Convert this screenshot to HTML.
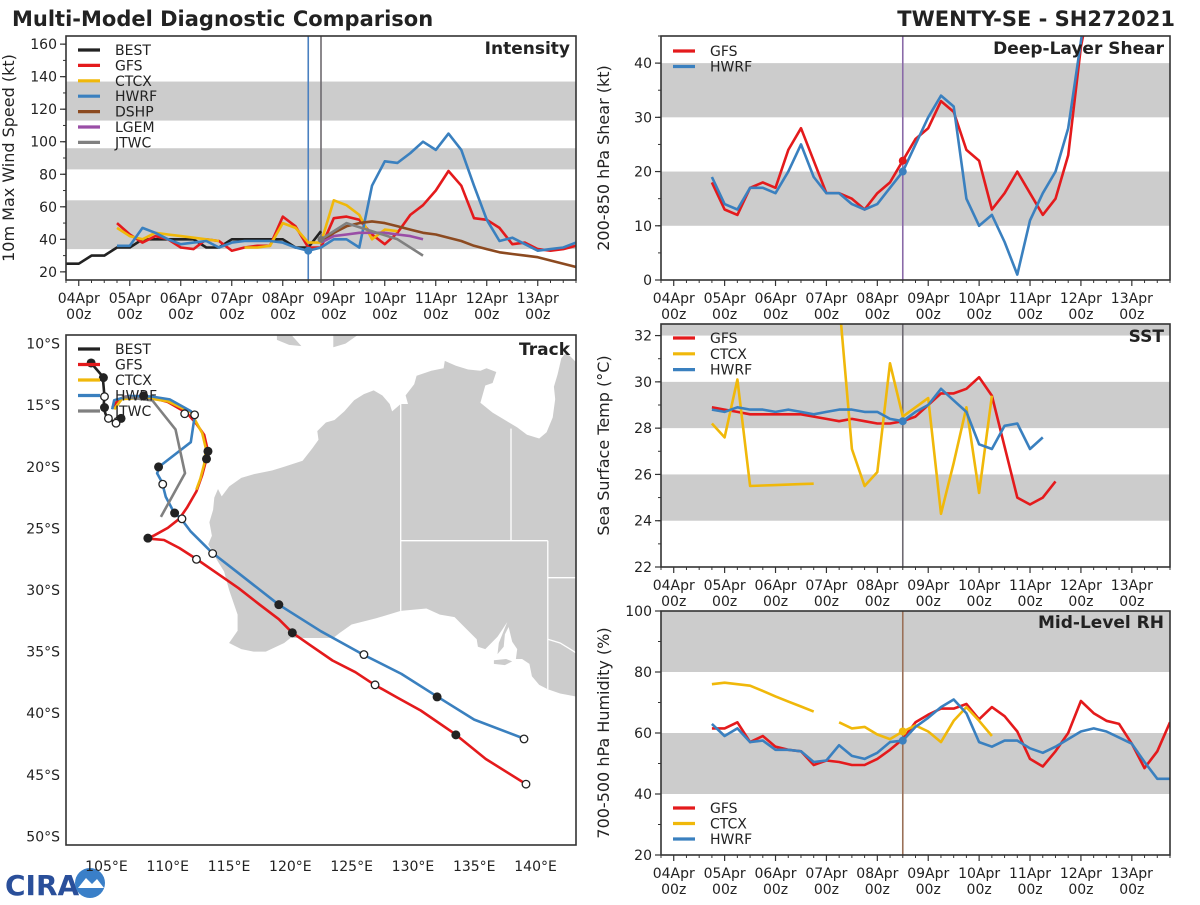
<!DOCTYPE html>
<html><head><meta charset="utf-8"><style>
html,body{margin:0;padding:0;background:#fff;}
svg text{font-family:"DejaVu Sans","Liberation Sans",sans-serif;}
</style></head><body>
<svg id="fig" width="1200" height="900" viewBox="0 0 1200 900" xmlns="http://www.w3.org/2000/svg">
<rect width="1200" height="900" fill="#fff"/>
<text x="12" y="26" font-size="21" font-weight="bold" fill="#222">Multi-Model Diagnostic Comparison</text>
<text x="1175" y="26" font-size="21" font-weight="bold" fill="#222" text-anchor="end">TWENTY-SE - SH272021</text>
<g>
<text x="5" y="895" font-size="28" font-weight="bold" font-family="Liberation Serif, serif" fill="#2a4f9a">CIRA</text>
<circle cx="90" cy="883" r="15" fill="#3a7fc8"/>
<path d="M78,888 L86,878 L92,884 L97,879 L104,888 Z" fill="#fff"/>
</g>
</svg>
<script>
// ---------- DATA ----------
const stepDays = 0.25;
// Intensity (kt)
const intBestStart = -0.25;
const intBest = [25,25,30,30,35,35,40,40,40,40,40,35,35,40,40,40,40,40,35,35,45];
const intGfsStart = 0.75;
const intGfs = [50,43,38,42,40,35,34,40,39,33,35,36,36,54,48,35,35,53,54,52,43,37,44,55,61,70,82,73,53,52,47,37,38,34,33,34,36];
const intCtcxStart = 0.75;
const intCtcx = [47,42,40,44,43,42,41,40,39,null,35,35,36,50,47,38,38,64,61,55,40,46,45];
const intHwrfStart = 0.75;
const intHwrf = [36,36,47,44,40,37,38,39,35,38,39,39,39,38,35,33,35,40,40,35,73,88,87,93,100,95,105,95,73,52,39,41,37,33,34,35,38];
const intDshpStart = 4.75;
const intDshp = [38,44,48,50,51,50,48,46,44,43,41,39,36,34,32,31,30,29,27,25,23];
const intLgemStart = 4.75;
const intLgem = [38,42,43,44,44,44,43,42,40];
const intJtwcTimes = [4.75,5.25,5.75,6.25,6.75];
const intJtwc = [40,50,45,40,30];
// Shear (kt)
const shrGfsStart = 0.75;
const shrGfs = [18,13,12,17,18,17,24,28,22,16,16,15,13,16,18,22,26,28,33,31,24,22,13,16,20,16,12,15,23,43,55];
const shrHwrfStart = 0.75;
const shrHwrf = [19,14,13,17,17,16,20,25,19,16,16,14,13,14,17,20,25,30,34,32,15,10,12,7,1,11,16,20,28,44,60];
// SST (C)
const sstGfsStart = 0.75;
const sstGfs = [28.9,28.8,28.7,28.6,28.6,28.6,28.6,28.6,28.5,28.4,28.3,28.4,28.3,28.2,28.2,28.3,28.5,29.0,29.5,29.5,29.7,30.2,29.4,27.2,25.0,24.7,25.0,25.7];
const sstCtcxStart = 0.75;
const sstCtcx = [28.2,27.6,30.1,25.5,25.52,25.54,25.56,25.58,25.6,null,33.5,27.1,25.5,26.1,30.8,28.5,28.9,29.3,24.3,26.5,28.9,25.2,29.4];
const sstHwrfStart = 0.75;
const sstHwrf = [28.8,28.7,28.9,28.8,28.8,28.7,28.8,28.7,28.6,28.7,28.8,28.8,28.7,28.7,28.4,28.3,28.7,29.0,29.7,29.2,28.7,27.3,27.1,28.1,28.2,27.1,27.6];
// RH (%)
const rhGfsStart = 0.75;
const rhGfs = [61.5,61.5,63.5,57,59,55.5,54.5,54,49.5,51,50.5,49.5,49.5,51.5,54.5,58,63.5,66,68,68,69.5,64.5,68.5,65.5,60.5,51.5,49,54,60,70.5,66.5,64,63,56.5,48.5,54,63.5];
const rhCtcxStart = 0.75;
const rhCtcx = [76,76.5,76,75.5,73.8,72,70.3,68.7,67,null,63.5,61.5,62,59.5,58,60.5,62.5,60.5,57,64,68.5,64,59];
const rhHwrfStart = 0.75;
const rhHwrf = [63,59,61.5,57,57.5,54.5,54.5,54,50.5,51,56,52.5,51.5,53.5,57,57.5,62,65,68.5,71,66.5,57,55.5,57.5,57.5,55,53.5,55.5,58,60.5,61.5,60.5,58.5,56.5,50.5,45,45];
// Time tick labels
const dayLabels = ["04Apr","05Apr","06Apr","07Apr","08Apr","09Apr","10Apr","11Apr","12Apr","13Apr"];
const initTime = 4.5;
const jtwcTime = 4.75;
// Track (lon E, lat)
const trkBestLon = [103.75,104.69,104.84,104.75,105.0,105.63,106.19];
const trkBestLat = [-11.57,-12.67,-14.30,-15.19,-15.93,-16.37,-16.07];
const trkGfsLon = [105.47,105.94,106.56,108.13,110.0,111.56,112.34,112.97,113.28,113.13,112.81,112.34,111.56,110.94,110.0,108.91,108.44,108.75,109.69,110.94,112.34,114.06,115.78,117.5,119.06,120.16,121.56,123.44,125.31,126.88,128.75,130.63,133.44,135.94,139.22];
const trkGfsLat = [-15.19,-14.59,-14.30,-14.24,-14.74,-15.63,-16.52,-17.41,-18.74,-19.48,-20.67,-22.0,-23.33,-24.22,-24.96,-25.56,-25.79,-25.85,-25.94,-26.59,-27.48,-28.67,-29.85,-31.19,-32.37,-33.47,-34.44,-35.72,-36.67,-37.70,-38.74,-39.78,-41.70,-43.72,-45.76];
const trkCtcxLon = [105.63,106.25,108.13,110.0,111.88,112.81,113.13,112.97,112.66,112.34];
const trkCtcxLat = [-15.33,-14.50,-14.39,-14.68,-15.57,-17.26,-18.59,-19.78,-20.96,-21.85];
const trkHwrfLon = [105.47,105.63,106.88,108.75,110.16,111.88,112.19,111.88,109.38,109.13,109.53,109.84,110.47,111.09,111.88,113.59,115.63,119.06,122.5,125.94,129.06,131.88,135.0,139.06];
const trkHwrfLat = [-15.33,-14.59,-14.24,-14.30,-14.53,-15.48,-15.93,-18.0,-19.93,-20.52,-21.26,-22.44,-23.63,-24.22,-25.26,-26.95,-28.52,-31.19,-33.35,-35.24,-36.81,-38.59,-40.52,-42.06];
const trkJtwcLon = [106.25,108.75,110.63,111.41,109.44];
const trkJtwcLat = [-14.30,-14.62,-16.96,-20.52,-24.07];
const trkFilledLon = [103.75,104.75,104.84,106.19,108.03,113.28,113.16,109.25,110.56,108.38,119.06,120.16,131.97,133.5];
const trkFilledLat = [-11.57,-12.76,-15.19,-16.07,-14.24,-18.74,-19.36,-20.01,-23.75,-25.79,-31.19,-33.47,-38.68,-41.76];
const trkOpenLon = [104.84,105.16,105.78,111.38,112.19,109.59,111.16,113.66,112.34,126.0,126.91,139.06,139.22];
const trkOpenLat = [-14.30,-16.07,-16.46,-15.69,-15.78,-21.41,-24.22,-27.04,-27.51,-35.24,-37.70,-42.09,-45.76];
const latTicks = [-10,-15,-20,-25,-30,-35,-40,-45,-50];
const lonTicks = [105,110,115,120,125,130,135,140];

// ---------- MAP (geography) ----------
const landOz = [[115.0,-34.3],[115.7,-33.3],[115.7,-32.0],[115.0,-30.0],[114.6,-28.5],[114.1,-27.7],[113.3,-26.3],[113.6,-25.6],[113.4,-24.5],[113.7,-23.5],[113.8,-22.5],[114.1,-21.8],[114.4,-22.4],[115.0,-21.6],[116.0,-20.9],[117.0,-20.6],[118.5,-20.3],[119.5,-20.0],[121.0,-19.5],[121.8,-18.5],[122.3,-17.8],[122.2,-17.1],[122.9,-16.4],[123.6,-16.2],[124.4,-15.5],[125.2,-14.6],[126.0,-14.1],[126.8,-13.8],[127.5,-14.2],[128.1,-14.9],[128.3,-15.5],[129.0,-14.9],[129.6,-14.9],[129.4,-14.2],[130.1,-13.3],[130.3,-12.6],[130.9,-12.4],[131.5,-12.2],[132.5,-12.0],[132.6,-11.4],[133.5,-11.8],[134.5,-12.1],[135.5,-12.2],[136.0,-12.0],[136.8,-12.3],[136.5,-13.2],[135.9,-13.4],[135.5,-14.8],[136.5,-15.6],[137.5,-16.2],[138.5,-16.8],[139.3,-17.4],[140.3,-17.7],[140.9,-17.2],[141.4,-16.0],[141.6,-14.5],[141.5,-13.5],[141.8,-12.5],[142.1,-11.2],[142.5,-10.7],[143.6,-11.8],[143.6,-38.7],[142.0,-38.4],[141.0,-38.05],[140.3,-37.7],[139.7,-37.0],[139.5,-36.0],[138.9,-35.6],[138.4,-35.6],[138.5,-34.8],[138.1,-34.2],[137.8,-33.0],[137.5,-33.6],[137.4,-34.6],[136.9,-35.2],[137.0,-34.3],[137.7,-32.6],[136.9,-33.8],[135.9,-34.8],[135.3,-34.6],[135.2,-34.0],[134.2,-33.0],[133.4,-32.2],[132.2,-32.0],[131.1,-31.5],[129.0,-31.7],[127.0,-32.3],[125.0,-32.8],[124.0,-33.5],[123.5,-33.9],[122.0,-33.9],[120.0,-33.9],[119.5,-34.3],[118.0,-35.0],[117.0,-35.0],[116.0,-34.8]];
const landKI = [[136.6,-35.7],[137.6,-35.6],[138.1,-35.8],[137.5,-36.1],[136.6,-36.0]];
const landSumba = [[118.9,-9.3],[120.0,-9.2],[120.9,-10.2],[119.9,-10.1],[118.9,-9.7]];
const landTimor = [[123.5,-10.3],[124.5,-10.0],[125.5,-9.3],[126.5,-8.9],[127.3,-8.4],[123.5,-8.4]];
const borders = [[[129,-14.9],[129,-31.7]],[[129,-26],[141,-26]],[[138,-16.9],[138,-26]],[[141,-26],[141,-38.05]],[[141,-29],[143.6,-29]],[[141,-34],[142,-34.3],[143,-34.9],[143.6,-35.3]]];

// ---------- DRAWING ----------
const NS='http://www.w3.org/2000/svg';
const fig=document.getElementById('fig');
const C={best:'#222222',gfs:'#e41a1c',ctcx:'#f0b80a',hwrf:'#3a80bf',dshp:'#8c4a20',lgem:'#9a4ea6',jtwc:'#808080'};
function el(tag,attrs,parent){const e=document.createElementNS(NS,tag);for(const k in attrs)e.setAttribute(k,attrs[k]);(parent||fig).appendChild(e);return e;}
function txt(parent,x,y,s,size,anchor,extra){const t=el('text',Object.assign({x:x,y:y,'font-size':size,'text-anchor':anchor||'start',fill:'#222'},extra||{}),parent);t.textContent=s;return t;}
let clipId=0;
function makePanel(name,box,xd,yd){
  const g=el('g',{});
  
  
  const sx=v=>box.x0+(v-xd[0])/(xd[1]-xd[0])*(box.x1-box.x0);
  const sy=v=>box.y1-(v-yd[0])/(yd[1]-yd[0])*(box.y1-box.y0);
  const id='clip'+(clipId++);
  const cp=el('clipPath',{id:id},g);el('rect',{x:box.x0,y:box.y0,width:box.x1-box.x0,height:box.y1-box.y0},cp);
  const plot=el('g',{'clip-path':'url(#'+id+')'},g);
  
  
  return {g,plot,sx,sy,box};
}
function bands(P,list,name){list.forEach((b,i)=>{const r=el('rect',{x:P.box.x0,y:P.sy(b[1]),width:P.box.x1-P.box.x0,height:P.sy(b[0])-P.sy(b[1]),fill:'#cccccc'},P.plot);
  
  });}
function series(P,start,vals,color,name,w){
  let segs=[],cur=[];
  vals.forEach((v,i)=>{if(v===null){if(cur.length)segs.push(cur);cur=[];}else cur.push(P.sx(start+i*stepDays).toFixed(1)+','+P.sy(v).toFixed(1));});
  if(cur.length)segs.push(cur);
  segs.forEach(s=>{const p=el('polyline',{points:s.join(' '),fill:'none',stroke:color,'stroke-width':w||2.6,'stroke-linejoin':'round'},P.plot);
    
    });
}
function seriesT(P,times,vals,color,name){
  const pts=vals.map((v,i)=>P.sx(times[i]).toFixed(1)+','+P.sy(v).toFixed(1)).join(' ');
  const p=el('polyline',{points:pts,fill:'none',stroke:color,'stroke-width':2.6,'stroke-linejoin':'round'},P.plot);
  
  
}
function dot(P,t,v,color,name,r){const c=el('circle',{cx:P.sx(t),cy:P.sy(v),r:r||4,fill:color},P.plot);
  
  }
function vline(P,t,color,name){const l=el('line',{x1:P.sx(t),x2:P.sx(t),y1:P.box.y0,y2:P.box.y1,stroke:color,'stroke-width':1.6},P.plot);
  
  }
function frame(P,name){const r=el('rect',{x:P.box.x0,y:P.box.y0,width:P.box.x1-P.box.x0,height:P.box.y1-P.box.y0,fill:'none',stroke:'#333','stroke-width':1.6},P.g);
  
  }
function yAxis(P,ticks,minors,name,label,fmt){
  const ax=el('g',{},P.g);
  
  
  minors.forEach(v=>el('line',{x1:P.box.x0-3,x2:P.box.x0,y1:P.sy(v),y2:P.sy(v),stroke:'#333','stroke-width':1},ax));
  ticks.forEach(v=>{el('line',{x1:P.box.x0-6,x2:P.box.x0,y1:P.sy(v),y2:P.sy(v),stroke:'#333','stroke-width':1.2},ax);
    txt(ax,P.box.x0-9,P.sy(v)+5,fmt?fmt(v):String(v),14,'end');});
  const cy=(P.box.y0+P.box.y1)/2, cx=P.box.x0-52;
  const t=txt(P.g,cx,cy,label,16,'middle',{transform:'rotate(-90 '+cx+' '+cy+')'});
  
  
}
function xAxis(P,name,labels){
  const ax=el('g',{},P.g);
  
  
  for(let t=-0.25;t<=9.76;t+=0.25){const maj=Math.abs(t-Math.round(t))<1e-6;
    el('line',{x1:P.sx(t),x2:P.sx(t),y1:P.box.y1,y2:P.box.y1+(maj?6:3),stroke:'#333','stroke-width':maj?1.2:1},ax);}
  if(labels) dayLabels.forEach((d,i)=>{txt(ax,P.sx(i),P.box.y1+23,d,14,'middle');txt(ax,P.sx(i),P.box.y1+39,'00z',14,'middle');});
}
function legend(P,x,y0,dy,items,name){
  const g=el('g',{},P.g);
  
  
  items.forEach((it,i)=>{const y=y0+i*dy;
    const e=el('g',{},g);
    
    
    el('line',{x1:x,x2:x+22,y1:y,y2:y,stroke:it[1],'stroke-width':3.2},e);
    txt(e,x+37,y+5,it[0],14,'start');});
}
function title(P,s,name,y){const t=txt(P.g,P.box.x1-6,y,s,17,'end',{'font-weight':'bold'});
  
  }
const range=(a,b,s)=>{const r=[];for(let v=a;v<=b+1e-9;v+=s)r.push(+v.toFixed(3));return r;};
const XD=[-0.25,9.75];

// Intensity
const PI=makePanel('intensity',{x0:66,x1:576,y0:36,y1:280},XD,[15,165]);
bands(PI,[[34,64],[83,96],[113,137]],'intensity');
vline(PI,initTime,'#4a80c0','intensity-init-line');
vline(PI,jtwcTime,'#6e6a70','intensity-jtwc-line');
series(PI,intBestStart,intBest,C.best,'intensity-best');
series(PI,intGfsStart,intGfs,C.gfs,'intensity-gfs');
series(PI,intCtcxStart,intCtcx,C.ctcx,'intensity-ctcx');
series(PI,intHwrfStart,intHwrf,C.hwrf,'intensity-hwrf');
series(PI,intDshpStart,intDshp,C.dshp,'intensity-dshp');
series(PI,intLgemStart,intLgem,C.lgem,'intensity-lgem');
seriesT(PI,intJtwcTimes,intJtwc,C.jtwc,'intensity-jtwc');
dot(PI,initTime,intHwrf[Math.round((initTime-intHwrfStart)/stepDays)],C.hwrf,'intensity-hwrf-init');
dot(PI,jtwcTime,intJtwc[0],'#777','intensity-jtwc-init',3.5);
frame(PI,'intensity');
yAxis(PI,range(20,160,20),range(20,160,10),'intensity','10m Max Wind Speed (kt)');
xAxis(PI,'intensity',true);
legend(PI,78,50,15.4,[['BEST',C.best],['GFS',C.gfs],['CTCX',C.ctcx],['HWRF',C.hwrf],['DSHP',C.dshp],['LGEM',C.lgem],['JTWC',C.jtwc]],'intensity');
title(PI,'Intensity','intensity',54);

// Shear
const PS=makePanel('shear',{x0:661,x1:1170,y0:36,y1:280},XD,[0,45]);
bands(PS,[[10,20],[30,40]],'shear');
vline(PS,initTime,'#8a6aa8','shear-init-line');
series(PS,shrGfsStart,shrGfs,C.gfs,'shear-gfs');
series(PS,shrHwrfStart,shrHwrf,C.hwrf,'shear-hwrf');
dot(PS,initTime,shrGfs[Math.round((initTime-shrGfsStart)/stepDays)],C.gfs,'shear-gfs-init');
dot(PS,initTime,shrHwrf[Math.round((initTime-shrHwrfStart)/stepDays)],C.hwrf,'shear-hwrf-init');
frame(PS,'shear');
yAxis(PS,range(0,40,10),range(0,45,5),'shear','200-850 hPa Shear (kt)');
xAxis(PS,'shear',true);
legend(PS,673,51,15.5,[['GFS',C.gfs],['HWRF',C.hwrf]],'shear');
title(PS,'Deep-Layer Shear','shear',54);

// SST
const PT=makePanel('sst',{x0:661,x1:1170,y0:324,y1:567},XD,[22,32.5]);
bands(PT,[[24,26],[28,30],[32,33]],'sst');
vline(PT,initTime,'#6e6a72','sst-init-line');
series(PT,sstGfsStart,sstGfs,C.gfs,'sst-gfs');
series(PT,sstCtcxStart,sstCtcx,C.ctcx,'sst-ctcx');
series(PT,sstHwrfStart,sstHwrf,C.hwrf,'sst-hwrf');
dot(PT,initTime,sstHwrf[Math.round((initTime-sstHwrfStart)/stepDays)],C.hwrf,'sst-hwrf-init');
frame(PT,'sst');
yAxis(PT,range(22,32,2),range(22,32,1),'sst','Sea Surface Temp (°C)');
xAxis(PT,'sst',true);
legend(PT,673,338,15.8,[['GFS',C.gfs],['CTCX',C.ctcx],['HWRF',C.hwrf]],'sst');
title(PT,'SST','sst',342);

// RH
const PR=makePanel('rh',{x0:661,x1:1170,y0:611,y1:855},XD,[20,100]);
bands(PR,[[40,60],[80,100]],'rh');
vline(PR,initTime,'#9a7058','rh-init-line');
series(PR,rhGfsStart,rhGfs,C.gfs,'rh-gfs');
series(PR,rhCtcxStart,rhCtcx,C.ctcx,'rh-ctcx');
series(PR,rhHwrfStart,rhHwrf,C.hwrf,'rh-hwrf');
dot(PR,initTime,rhCtcx[Math.round((initTime-rhCtcxStart)/stepDays)],C.ctcx,'rh-ctcx-init');
dot(PR,initTime,rhHwrf[Math.round((initTime-rhHwrfStart)/stepDays)],C.hwrf,'rh-hwrf-init');
frame(PR,'rh');
yAxis(PR,range(20,100,20),range(20,100,10),'rh','700-500 hPa Humidity (%)');
xAxis(PR,'rh',true);
legend(PR,673,808,15.5,[['GFS',C.gfs],['CTCX',C.ctcx],['HWRF',C.hwrf]],'rh');
title(PR,'Mid-Level RH','rh',628);

// Track
const PK=makePanel('track',{x0:66,x1:576,y0:335,y1:845},[101.7,143.3],[-50.7,-9.3]);
[[landOz,'australia-land'],[landKI,'kangaroo-island'],[landSumba,'sumba-island'],[landTimor,'timor-island']].forEach(L=>{
  const p=el('polygon',{points:L[0].map(q=>PK.sx(q[0]).toFixed(1)+','+PK.sy(q[1]).toFixed(1)).join(' '),fill:'#cccccc',stroke:'none'},PK.plot);
  
  });
borders.forEach((b,i)=>{const p=el('polyline',{points:b.map(q=>PK.sx(q[0]).toFixed(1)+','+PK.sy(q[1]).toFixed(1)).join(' '),fill:'none',stroke:'#fff','stroke-width':1.3},PK.plot);
  
  });
function track(lons,lats,color,name){const p=el('polyline',{points:lons.map((v,i)=>PK.sx(v).toFixed(1)+','+PK.sy(lats[i]).toFixed(1)).join(' '),fill:'none',stroke:color,'stroke-width':2.6,'stroke-linejoin':'round'},PK.plot);
  
  }
legend(PK,78,349,15.5,[['BEST',C.best],['GFS',C.gfs],['CTCX',C.ctcx],['HWRF',C.hwrf],['JTWC',C.jtwc]],'track');
track(trkGfsLon,trkGfsLat,C.gfs,'gfs');
track(trkCtcxLon,trkCtcxLat,C.ctcx,'ctcx');
track(trkHwrfLon,trkHwrfLat,C.hwrf,'hwrf');
track(trkJtwcLon,trkJtwcLat,C.jtwc,'jtwc');
track(trkBestLon,trkBestLat,C.best,'best');
trkFilledLon.forEach((v,i)=>{const c=el('circle',{cx:PK.sx(v),cy:PK.sy(trkFilledLat[i]),r:4.5,fill:'#222'},PK.plot);
  
  });
trkOpenLon.forEach((v,i)=>{const c=el('circle',{cx:PK.sx(v),cy:PK.sy(trkOpenLat[i]),r:3.8,fill:'#fff',stroke:'#222','stroke-width':1.3},PK.plot);
  
  });
frame(PK,'track');
const latAx=el('g',{},PK.g);


latTicks.forEach(v=>txt(latAx,60,PK.sy(v)+5,Math.abs(v)+'°S',14,'end'));
const lonAx=el('g',{},PK.g);


lonTicks.forEach(v=>txt(lonAx,PK.sx(v),871,v+'°E',14,'middle'));
title(PK,'Track','track',355);
</script>
</body></html>
